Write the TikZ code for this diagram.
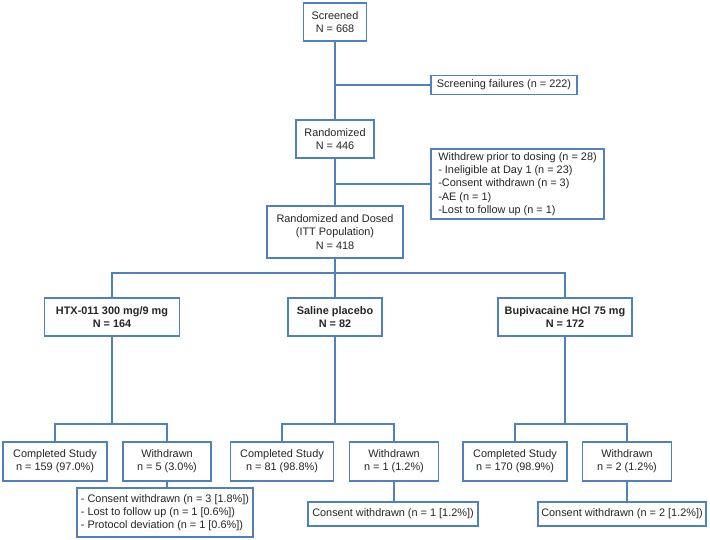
\documentclass[tikz,border=0pt]{standalone}
\usepackage{fontspec}
\setmainfont{Liberation Sans}
\definecolor{flowblue}{RGB}{79,129,189}
\definecolor{flowtext}{RGB}{38,38,38}
\begin{document}
\begin{tikzpicture}[x=1pt,y=-1pt,
    box/.style={draw=flowblue,line width=1.5pt,fill=white,align=center,inner sep=2pt,
      text=flowtext,font=\fontsize{10.9}{13.3}\selectfont},
    arm/.style={box,font=\fontsize{10.9}{13.3}\selectfont\bfseries},
    note/.style={box,align=left,inner sep=1pt},
    link/.style={draw=flowblue,line width=1.5pt}]
  \useasboundingbox (0,0) rectangle (710,539);
  % enrolment
  \node[box,minimum width=63pt,minimum height=38pt] (scr) at (335,22) {Screened\\N = 668};
  \node[box,minimum width=146pt,minimum height=19pt] (fail) at (504,85) {Screening failures (n = 222)};
  \node[box,minimum width=78pt,minimum height=38pt] (rand) at (335,139) {Randomized\\N = 446};
  \node[note,minimum width=173pt,minimum height=70pt] (wd) at (517.5,184)
    {Withdrew prior to dosing (n = 28)\\- Ineligible at Day 1 (n = 23)\\-Consent withdrawn (n = 3)\\-AE (n = 1)\\-Lost to follow up (n = 1)};
  \node[box,minimum width=136pt,minimum height=52pt] (rd) at (335,232) {Randomized and Dosed\\(ITT Population)\\N = 418};
  \draw[link] (scr) -- (rand);
  \draw[link] (scr.south |- fail.west) -- (fail.west);
  \draw[link] (rand) -- (rd);
  \draw[link] (rand.south |- wd.west) -- (wd.west);
  % treatment arms
  \node[arm,minimum width=135pt,minimum height=38pt] (htx) at (112,317) {HTX-011 300 mg/9 mg\\N = 164};
  \node[arm,minimum width=94pt,minimum height=38pt] (sal) at (335,317) {Saline placebo\\N = 82};
  \node[arm,minimum width=134pt,minimum height=38pt] (bup) at (565,317) {Bupivacaine HCl 75 mg\\N = 172};
  \coordinate (armsplit) at (335,273);
  \draw[link] (rd) -- (sal);
  \draw[link] (htx.north) |- (armsplit) -| (bup.north);
  % outcomes
  \node[box,minimum width=104pt,minimum height=39pt] (htxc) at (55,461.5) {Completed Study\\n = 159 (97.0\%)};
  \node[box,minimum width=88pt,minimum height=39pt] (htxw) at (167,461.5) {Withdrawn\\n = 5 (3.0\%)};
  \node[box,minimum width=103pt,minimum height=39pt] (salc) at (282,461.5) {Completed Study\\n = 81 (98.8\%)};
  \node[box,minimum width=89pt,minimum height=39pt] (salw) at (394,461.5) {Withdrawn\\n = 1 (1.2\%)};
  \node[box,minimum width=104pt,minimum height=39pt] (bupc) at (515,461.5) {Completed Study\\n = 170 (98.9\%)};
  \node[box,minimum width=89pt,minimum height=39pt] (bupw) at (627,461.5) {Withdrawn\\n = 2 (1.2\%)};
  \coordinate (htxsplit) at (112,424);
  \coordinate (salsplit) at (335,424);
  \coordinate (bupsplit) at (565,424);
  \draw[link] (htx) -- (htxsplit);
  \draw[link] (htxc.north) |- (htxsplit) -| (htxw.north);
  \draw[link] (sal) -- (salsplit);
  \draw[link] (salc.north) |- (salsplit) -| (salw.north);
  \draw[link] (bup) -- (bupsplit);
  \draw[link] (bupc.north) |- (bupsplit) -| (bupw.north);
  % reasons
  \node[note,minimum width=176pt,minimum height=49pt] (htxd) at (165,512.5)
    {- Consent withdrawn (n = 3 [1.8\%])\\- Lost to follow up (n = 1 [0.6\%])\\- Protocol deviation (n = 1 [0.6\%])};
  \node[box,minimum width=170pt,minimum height=24pt] (sald) at (393,514) {Consent withdrawn (n = 1 [1.2\%])};
  \node[box,minimum width=168pt,minimum height=24pt] (bupd) at (622,514) {Consent withdrawn (n = 2 [1.2\%])};
  \draw[link] (htxw.south) -- (htxw.south |- htxd.north);
  \draw[link] (salw.south) -- (salw.south |- sald.north);
  \draw[link] (bupw.south) -- (bupw.south |- bupd.north);
\end{tikzpicture}
\end{document}
